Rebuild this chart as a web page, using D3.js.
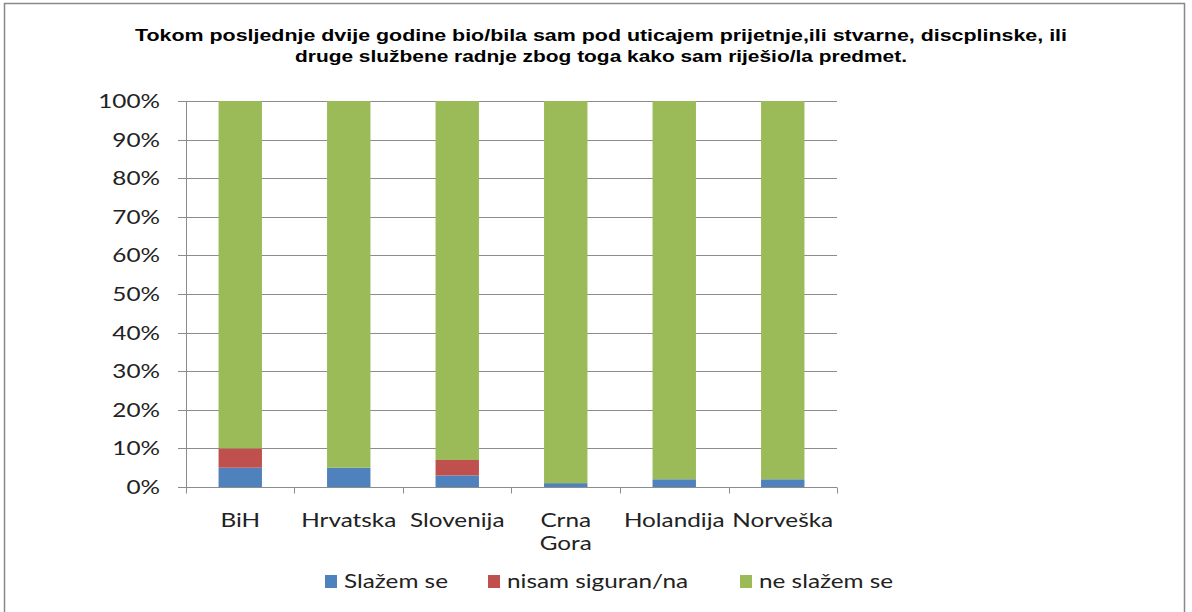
<!DOCTYPE html>
<html>
<head>
<meta charset="utf-8">
<script src="https://cdn.jsdelivr.net/npm/d3@7"></script>
<style>
  body { margin: 0; background: #fff; }
  svg { display: block; }
</style>
</head>
<body>
<div id="chart"></div>
<script>
// data
const categories = [["BiH"], ["Hrvatska"], ["Slovenija"], ["Crna", "Gora"], ["Holandija"], ["Norveška"]];
const seriesNames = ["Slažem se", "nisam siguran/na", "ne slažem se"];
const slazemSe = [5, 5, 3, 1, 2, 2];
const nisamSiguran = [5, 0, 4, 0, 0, 0];
const neSlazemSe = [90, 95, 93, 99, 98, 98];
const yTicks = [0, 10, 20, 30, 40, 50, 60, 70, 80, 90, 100];
const titleLines = [
  "Tokom posljednje dvije godine bio/bila sam pod uticajem prijetnje,ili stvarne, discplinske, ili",
  "druge službene radnje zbog toga kako sam riješio/la predmet."
];
const colors = ["#4F81BD", "#C0504D", "#9BBB59"];

let width = 1192;
let height = 612;
let margin = ({top: 101, right: 355, bottom: 125, left: 186});
const stretch = 1.28; // the original text looks horizontally widened

const svg = d3.select("#chart").append("svg")
  .attr("width", width)
  .attr("height", height);

// outer frame
svg.append("rect")
  .attr("x", 4.5).attr("y", 3.5)
  .attr("width", 1180).attr("height", 640)
  .attr("fill", "none")
  .attr("stroke", "#888")
  .attr("stroke-width", 1.5);

// title
const titleWidths = [932, 612];
svg.append("g").selectAll("text")
  .data(titleLines)
  .join("text")
    .attr("x", 601)
    .attr("y", (d, i) => 41 + i * 21)
    .attr("text-anchor", "middle")
    .attr("font-family", "Liberation Sans, Arial, sans-serif")
    .attr("font-weight", "bold")
    .attr("font-size", 16.5)
    .attr("fill", "#000")
    .attr("textLength", (d, i) => titleWidths[i])
    .attr("lengthAdjust", "spacingAndGlyphs")
    .text(d => d);

const keys = categories.map(c => c.join(" "));
const xScale = d3.scaleBand()
  .domain(keys)
  .range([margin.left, width - margin.right])
  .paddingInner(0.6)
  .paddingOuter(0.3);

const yScale = d3.scaleLinear()
  .domain([0, 100])
  .range([height - margin.bottom, margin.top]);

// gridlines
svg.append("g")
  .selectAll("line")
  .data(yTicks)
  .join("line")
    .attr("x1", margin.left - 8)
    .attr("x2", width - margin.right)
    .attr("y1", d => Math.round(yScale(d)) + 0.5)
    .attr("y2", d => Math.round(yScale(d)) + 0.5)
    .attr("stroke", "#8c8c8c")
    .attr("stroke-width", 1);

// y labels
svg.append("g")
  .selectAll("text")
  .data(yTicks)
  .join("text")
    .attr("transform", d => `translate(${margin.left - 26},${yScale(d) + 7}) scale(${stretch},1)`)
    .attr("text-anchor", "end")
    .attr("font-family", "Lato, sans-serif")
    .attr("font-size", 19)
    .attr("fill", "#222")
    .text(d => d + "%");

// stacked bars
const table = keys.map((k, i) => ({key: k, s0: slazemSe[i], s1: nisamSiguran[i], s2: neSlazemSe[i]}));
const stack = d3.stack().keys(["s0", "s1", "s2"]);
const stacked = stack(table);

svg.append("g")
  .selectAll("g")
  .data(stacked)
  .join("g")
    .attr("fill", (d, i) => colors[i])
  .selectAll("rect")
  .data(d => d.filter(p => p[1] > p[0]))
  .join("rect")
    .attr("x", d => xScale(d.data.key))
    .attr("width", xScale.bandwidth())
    .attr("y", d => yScale(d[1]))
    .attr("height", d => yScale(d[0]) - yScale(d[1]));

// x axis line + ticks
const baseY = Math.round(yScale(0)) + 0.5;
svg.append("line")
  .attr("x1", margin.left).attr("x2", width - margin.right)
  .attr("y1", baseY).attr("y2", baseY)
  .attr("stroke", "#8c8c8c");
// y axis line
svg.append("line")
  .attr("x1", margin.left + 0.5).attr("x2", margin.left + 0.5)
  .attr("y1", yScale(100)).attr("y2", baseY)
  .attr("stroke", "#8c8c8c");

const step = xScale.step();
const bounds = d3.range(keys.length + 1).map(i => margin.left + (xScale(keys[0]) - margin.left - step * xScale.paddingInner() / 2) + i * step);
svg.append("g")
  .selectAll("line")
  .data(bounds)
  .join("line")
    .attr("x1", d => Math.round(d) + 0.5)
    .attr("x2", d => Math.round(d) + 0.5)
    .attr("y1", baseY)
    .attr("y2", baseY + 6)
    .attr("stroke", "#8c8c8c");

// x labels
const xl = svg.append("g")
  .selectAll("text")
  .data(categories)
  .join("text")
    .attr("transform", (d, i) => `translate(${xScale(keys[i]) + xScale.bandwidth() / 2},527) scale(${stretch},1)`)
    .attr("text-anchor", "middle")
    .attr("font-family", "Lato, sans-serif")
    .attr("font-size", 19)
    .attr("fill", "#222");
xl.selectAll("tspan")
  .data(d => d)
  .join("tspan")
    .attr("x", 0)
    .attr("dy", (d, i) => i === 0 ? 0 : 23)
    .text(d => d);

// legend
const legendX = [325, 488, 740];
const legend = svg.append("g")
  .selectAll("g")
  .data(seriesNames)
  .join("g")
    .attr("transform", (d, i) => `translate(${legendX[i]},575)`);
legend.append("rect")
  .attr("width", 12).attr("height", 13)
  .attr("fill", (d, i) => colors[i]);
legend.append("text")
  .attr("transform", `translate(19,13) scale(${stretch},1)`)
  .attr("font-family", "Lato, sans-serif")
  .attr("font-size", 19)
  .attr("fill", "#222")
  .text(d => d);
</script>
</body>
</html>
